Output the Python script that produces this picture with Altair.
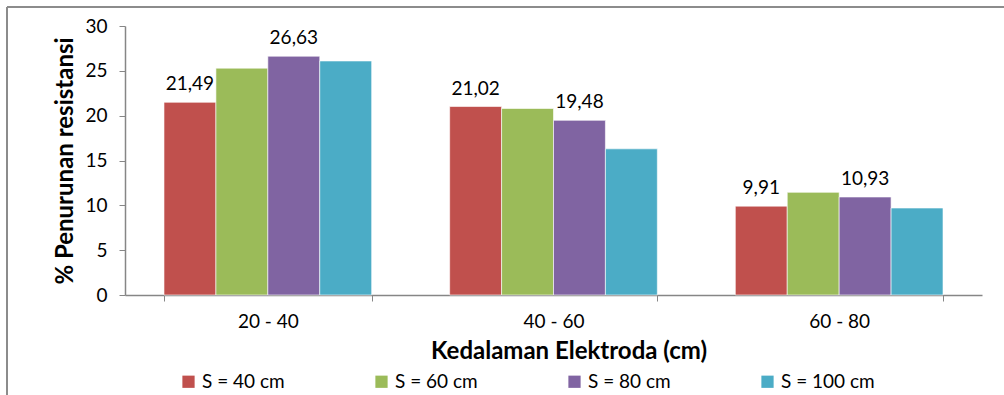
import altair as alt
import pandas as pd

# Electrode depth groups and spacing series
depths = ["20 - 40", "40 - 60", "60 - 80"]
series = ["S = 40 cm", "S = 60 cm", "S = 80 cm", "S = 100 cm"]
colors = ["#C0504D", "#9BBB59", "#8064A2", "#4BACC6"]

# Resistance reduction (%) per spacing, one value per depth group
s40 = [21.49, 21.02, 9.91]
s60 = [25.3, 20.8, 11.45]
s80 = [26.63, 19.48, 10.93]
s100 = [26.1, 16.3, 9.7]

# Series that carry value labels
labelled = ["S = 40 cm", "S = 80 cm"]

rows = []
for name, vals in zip(series, [s40, s60, s80, s100]):
    for d, v in zip(depths, vals):
        rows.append({
            "depth": d,
            "series": name,
            "value": v,
            "label": f"{v:.2f}".replace(".", ",") if name in labelled else "",
        })
df = pd.DataFrame(rows)

FONT = "Lato"
GREY = "#868686"

x_enc = alt.X(
    "depth:N",
    sort=depths,
    scale=alt.Scale(paddingInner=0.273, paddingOuter=0.1365),
    axis=alt.Axis(
        title="Kedalaman Elektroda (cm)",
        labelAngle=0,
        tickBand="extent",
        tickSize=6,
        tickColor=GREY,
        domainColor=GREY,
        domainWidth=1.5,
        labelFontSize=19,
        labelPadding=11,
        labelColor="#000000",
        titleFontSize=24,
        titleFontWeight="bold",
        titleColor="#000000",
        titleX=443.5,
        titleY=56,
        titleBaseline="middle",
        titleAlign="center",
    ),
)
y_enc = alt.Y(
    "value:Q",
    scale=alt.Scale(domain=[0, 30]),
    axis=alt.Axis(
        title="% Penurunan resistansi",
        values=[0, 5, 10, 15, 20, 25, 30],
        grid=False,
        tickSize=6,
        tickColor=GREY,
        domainColor=GREY,
        domainWidth=1.5,
        labelFontSize=19,
        labelPadding=12,
        labelColor="#000000",
        titleFontSize=24,
        titleFontWeight="bold",
        titleColor="#000000",
        titleAngle=270,
        titleX=-60,
        titleY=134.5,
        titleBaseline="middle",
        titleAlign="center",
    ),
)
off_enc = alt.XOffset("series:N", sort=series, scale=alt.Scale(paddingInner=0, paddingOuter=0))

bars = alt.Chart(df).mark_bar(stroke="#ffffff", strokeWidth=0.6).encode(
    x=x_enc,
    xOffset=off_enc,
    y=y_enc,
    color=alt.Color(
        "series:N",
        sort=series,
        scale=alt.Scale(domain=series, range=colors),
        legend=alt.Legend(
            title=None,
            orient="none",
            direction="horizontal",
            columns=4,
            legendX=54,
            legendY=346,
            symbolType="square",
            symbolSize=150,
            symbolStrokeWidth=0,
            labelFontSize=19,
            labelColor="#000000",
            columnPadding=76,
            gridAlign="all",
            labelOffset=4,
        ),
    ),
)

labels = alt.Chart(df).transform_filter(alt.datum.label != "").mark_text(
    font=FONT, fontSize=19, baseline="alphabetic", dy=-12, color="#000000"
).encode(
    x=alt.X("depth:N", sort=depths),
    xOffset=alt.XOffset("series:N", sort=series),
    y="value:Q",
    text="label:N",
)

# Outer frame edges (left and top)
frame_src = pd.DataFrame({"k": [0]})
frame_left = alt.Chart(frame_src).mark_rule(color="#8c8c8c", strokeWidth=2).encode(
    x=alt.value(-118), y=alt.value(-19), y2=alt.value(369)
)
frame_top = alt.Chart(frame_src).mark_rule(color="#8c8c8c", strokeWidth=2).encode(
    x=alt.value(-118), x2=alt.value(879), y=alt.value(-19)
)

chart = alt.layer(bars, labels, frame_left, frame_top).properties(
    width=857,
    height=269,
    autosize=alt.AutoSizeParams(type="none"),
    padding={"left": 125, "top": 26, "right": 22, "bottom": 100},
).configure(
    font=FONT,
    background="#ffffff",
).configure_view(stroke=None)

chart.save("out.html", embed_options={"renderer": "svg", "actions": False})
